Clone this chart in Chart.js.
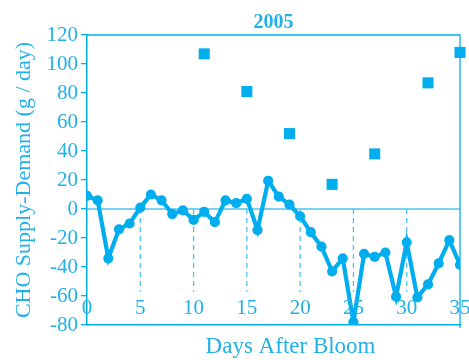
<!DOCTYPE html>
<html>
<head>
<meta charset="utf-8">
<script src="https://cdn.jsdelivr.net/npm/chart.js@4/dist/chart.umd.min.js"></script>
<style>
html,body{margin:0;padding:0;background:#fff;}
#wrap{width:469px;height:360px;position:relative;}
</style>
</head>
<body>
<div id="wrap"><canvas id="c" width="469" height="360"></canvas></div>
<script>
// Daily supply-demand line (days 0..35)
const days = [0,1,2,3,4,5,6,7,8,9,10,11,12,13,14,15,16,17,18,19,20,21,22,23,24,25,26,27,28,29,30,31,32,33,34,35];
const balance = [9,6,-34,-14,-10,1,10,6,-3.5,-1,-7.5,-2,-9,6,4,7,-14.5,19.5,8.5,3,-5,-16,-26,-43,-34,-78,-31,-33,-30,-60.5,-23,-61,-52,-37.5,-21.5,-38.5];
// Square markers
const squareDays = [11,15,19,23,27,32,35];
const squareValues = [107,81,52,17,38,87,108];
const xTicks = [0,5,10,15,20,25,30,35];
const dashedDays = [5,10,15,20,25,30];
const yTicks = [-80,-60,-40,-20,0,20,40,60,80,100,120];
const xTitle = 'Days After Bloom';

const MARK = '#00aeef';
const TEXT = '#22b0e8';
const FONT = '"Liberation Serif", "DejaVu Serif", serif';

const overlay = {
  id: 'overlay',
  beforeDatasetsDraw(chart) {
    const {ctx, chartArea: a, scales: {x, y}} = chart;
    ctx.save();
    // zero line
    ctx.strokeStyle = '#4cc3ee';
    ctx.lineWidth = 1.5;
    ctx.beginPath();
    ctx.moveTo(a.left, y.getPixelForValue(0));
    ctx.lineTo(a.right, y.getPixelForValue(0));
    ctx.stroke();
    // dashed verticals
    ctx.setLineDash([5,4]);
    ctx.lineWidth = 1.3;
    dashedDays.forEach(d => {
      const px = x.getPixelForValue(d);
      ctx.beginPath();
      ctx.moveTo(px, y.getPixelForValue(0));
      ctx.lineTo(px, y.getPixelForValue(-57));
      ctx.stroke();
    });
    ctx.setLineDash([]);
    // top and right border
    ctx.strokeStyle = MARK;
    ctx.lineWidth = 1.3;
    ctx.beginPath();
    ctx.moveTo(a.left, a.top);
    ctx.lineTo(a.right, a.top);
    ctx.lineTo(a.right, a.bottom + 3);
    ctx.stroke();
    ctx.restore();
  },
  afterDatasetsDraw(chart) {
    const {ctx, chartArea: a, scales: {x}} = chart;
    ctx.save();
    ctx.fillStyle = TEXT;
    ctx.font = '21px ' + FONT;
    ctx.textAlign = 'center';
    ctx.textBaseline = 'middle';
    xTicks.forEach(t => {
      ctx.fillText(String(t), x.getPixelForValue(t), a.bottom - 17);
    });
    // x axis title
    ctx.font = '23px ' + FONT;
    ctx.fillText(xTitle, x.getPixelForValue(19.1), a.bottom + 22);
    ctx.restore();
  }
};

new Chart(document.getElementById('c'), {
  type: 'line',
  data: {
    datasets: [
      {
        type: 'line',
        data: days.map((d, i) => ({x: d, y: balance[i]})),
        borderColor: MARK,
        backgroundColor: MARK,
        borderWidth: 4.2,
        pointRadius: 3,
        pointHoverRadius: 3,
        tension: 0,
        fill: false
      },
      {
        type: 'scatter',
        data: squareDays.map((d, i) => ({x: d, y: squareValues[i]})),
        pointStyle: 'rect',
        pointRadius: 7.8,
        pointBorderWidth: 0,
        backgroundColor: MARK,
        borderColor: MARK,
        showLine: false,
        clip: false
      }
    ]
  },
  options: {
    responsive: false,
    animation: false,
    devicePixelRatio: 1,
    layout: {padding: {left: 0, right: 9, top: 0, bottom: 0}},
    plugins: {
      legend: {display: false},
      tooltip: {enabled: false},
      title: {
        display: true,
        text: '2005',
        fullSize: false,
        color: TEXT,
        font: {family: FONT, size: 20, weight: 'bold'},
        padding: {top: 11, bottom: 0}
      }
    },
    scales: {
      x: {
        type: 'linear',
        min: 0,
        max: 35,
        grid: {display: false},
        border: {display: true, color: MARK, width: 1.5},
        ticks: {display: false},
        title: {display: false},
        afterFit(s) { s.height = 35; }
      },
      y: {
        min: -80,
        max: 120,
        afterBuildTicks(s) { s.ticks = yTicks.map(v => ({value: v})); },
        grid: {drawOnChartArea: false, color: MARK, tickLength: 6, lineWidth: 1.3},
        border: {display: true, color: MARK, width: 1.5},
        ticks: {
          color: TEXT,
          font: {family: FONT, size: 21},
          padding: 3
        },
        title: {
          display: true,
          text: 'CHO Supply-Demand (g / day)',
          color: TEXT,
          font: {family: FONT, size: 22},
          padding: {top: 11, bottom: 0}
        },
        afterFit(s) { s.width = 87; }
      }
    }
  },
  plugins: [overlay]
});
</script>
</body>
</html>
